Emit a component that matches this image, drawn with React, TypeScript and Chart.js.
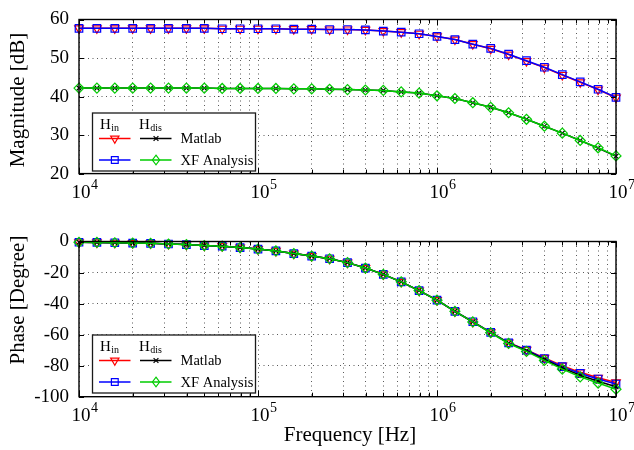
import React, { useEffect, useRef } from 'react';
import { Chart, registerables } from 'chart.js';

Chart.register(...registerables);

const FONT = '"Liberation Serif", "Times New Roman", serif';

// Frequencies (Hz), 10 points per decade
const FREQ = [
  1.0e4, 1.259e4, 1.585e4, 1.995e4, 2.512e4, 3.162e4, 3.981e4, 5.012e4, 6.31e4, 7.943e4,
  1.0e5, 1.259e5, 1.585e5, 1.995e5, 2.512e5, 3.162e5, 3.981e5, 5.012e5, 6.31e5, 7.943e5,
  1.0e6, 1.259e6, 1.585e6, 1.995e6, 2.512e6, 3.162e6, 3.981e6, 5.012e6, 6.31e6, 7.943e6,
  1.0e7,
];

// Magnitude [dB]
const MAG_IN_MATLAB = [
  57.7, 57.7, 57.7, 57.7, 57.7, 57.7, 57.7, 57.7, 57.6, 57.6,
  57.6, 57.6, 57.5, 57.5, 57.4, 57.4, 57.3, 57.0, 56.7, 56.3,
  55.6, 54.8, 53.6, 52.4, 50.9, 49.2, 47.5, 45.6, 43.7, 41.8,
  39.7,
];
const MAG_IN_XF = [
  57.7, 57.7, 57.7, 57.7, 57.7, 57.7, 57.7, 57.7, 57.6, 57.6,
  57.6, 57.6, 57.5, 57.5, 57.4, 57.4, 57.3, 57.0, 56.7, 56.3,
  55.6, 54.8, 53.6, 52.5, 51.0, 49.3, 47.6, 45.7, 43.8, 41.9,
  39.8,
];
const MAG_DIS_MATLAB = [
  42.2, 42.2, 42.2, 42.2, 42.2, 42.2, 42.2, 42.2, 42.1, 42.1,
  42.1, 42.1, 42.0, 42.0, 41.9, 41.8, 41.7, 41.6, 41.2, 40.9,
  40.2, 39.5, 38.4, 37.2, 35.8, 34.1, 32.3, 30.5, 28.6, 26.6,
  24.5,
];
const MAG_DIS_XF = [
  42.2, 42.2, 42.2, 42.2, 42.2, 42.2, 42.2, 42.2, 42.1, 42.1,
  42.1, 42.1, 42.0, 42.0, 41.9, 41.8, 41.7, 41.6, 41.2, 40.9,
  40.2, 39.5, 38.4, 37.2, 35.8, 34.1, 32.3, 30.5, 28.6, 26.7,
  24.6,
];

// Phase [Degree]
const PH_IN_MATLAB = [
  -0.5, -0.6, -0.8, -1.0, -1.2, -1.6, -2.0, -2.6, -3.0, -3.9,
  -4.9, -6.1, -7.8, -9.4, -11.1, -13.6, -17.1, -21.2, -26.0, -31.6,
  -37.8, -45.0, -51.7, -58.5, -65.2, -69.8, -75.0, -80.0, -84.3, -87.8,
  -90.8,
];
const PH_IN_XF = [
  -0.5, -0.6, -0.8, -1.0, -1.2, -1.6, -2.0, -2.6, -3.0, -3.9,
  -4.9, -6.1, -7.8, -9.4, -11.1, -13.6, -17.1, -21.2, -26.0, -31.6,
  -37.8, -45.0, -51.7, -58.5, -65.3, -70.0, -75.4, -80.6, -85.0, -88.6,
  -91.8,
];
const PH_DIS_MATLAB = [
  -0.5, -0.6, -0.8, -1.0, -1.2, -1.6, -2.0, -2.6, -3.0, -3.9,
  -4.9, -6.1, -7.8, -9.4, -11.1, -13.6, -17.1, -21.2, -26.0, -31.6,
  -37.8, -45.0, -51.8, -58.7, -65.5, -70.4, -76.0, -81.4, -86.2, -90.0,
  -93.6,
];
const PH_DIS_XF = [
  -0.5, -0.6, -0.8, -1.0, -1.2, -1.6, -2.0, -2.6, -3.0, -3.9,
  -4.9, -6.1, -7.8, -9.4, -11.1, -13.6, -17.1, -21.2, -26.0, -31.6,
  -37.8, -45.0, -51.8, -58.8, -65.7, -70.8, -76.6, -82.2, -87.2, -91.2,
  -95.2,
];

const MAG_TICKS = [20, 30, 40, 50, 60];
const PHASE_TICKS = [-100, -80, -60, -40, -20, 0];
const DECADES = [1e4, 1e5, 1e6, 1e7];
const DECADE_EXP = ['4', '5', '6', '7'];
const MANTISSAS = [1, 2, 3, 4, 5, 6, 7, 8, 9];

const SERIES_LABELS = ['Matlab', 'XF Analysis'];
const MAG_TITLE = 'Magnitude [dB]';
const PHASE_TITLE = 'Phase [Degree]';
const X_TITLE = 'Frequency [Hz]';

const RED = '#ff0000';
const BLUE = '#0000ff';
const BLACK = '#000000';
const GREEN = '#00cc00';
const GRID = 'rgba(0,0,0,0.65)';

function xTickValues(): number[] {
  const out: number[] = [];
  for (let i = 0; i < DECADES.length - 1; i++) {
    for (const m of MANTISSAS) out.push(m * DECADES[i]);
  }
  out.push(DECADES[DECADES.length - 1]);
  return out;
}

function makeDatasets(inM: number[], inX: number[], disM: number[], disX: number[]) {
  const pts = (arr: number[]) => FREQ.map((f, i) => ({ x: f, y: arr[i] }));
  const common = {
    backgroundColor: 'rgba(0,0,0,0)',
    pointBackgroundColor: 'rgba(0,0,0,0)',
    borderWidth: 1.5,
    pointBorderWidth: 1.2,
    tension: 0,
    clip: false as const,
    fill: false,
  };
  return [
    {
      ...common, label: 'H_in ' + SERIES_LABELS[0], data: pts(inM), borderColor: RED,
      pointBorderColor: RED, pointStyle: 'triangle', pointRotation: 180, pointRadius: 5,
      pointHoverRadius: 5, order: 3,
    },
    {
      ...common, label: 'H_in ' + SERIES_LABELS[1], data: pts(inX), borderColor: BLUE,
      pointBorderColor: BLUE, pointStyle: 'rect', pointRadius: 5.3, pointHoverRadius: 5.3, order: 2,
    },
    {
      ...common, label: 'H_dis ' + SERIES_LABELS[0], data: pts(disM), borderColor: BLACK,
      pointBorderColor: BLACK, pointStyle: 'crossRot', pointRadius: 3.4, pointHoverRadius: 3.4, order: 1,
    },
    {
      ...common, label: 'H_dis ' + SERIES_LABELS[1], data: pts(disX), borderColor: GREEN,
      pointBorderColor: GREEN, pointStyle: 'rectRot', pointRadius: 5, pointHoverRadius: 5, order: 0,
    },
  ];
}

function drawMarker(ctx: CanvasRenderingContext2D, kind: string, x: number, y: number, color: string) {
  ctx.save();
  ctx.strokeStyle = color;
  ctx.lineWidth = 1.2;
  ctx.beginPath();
  if (kind === 'tri') {
    const r = 4.8;
    ctx.moveTo(x, y + r);
    ctx.lineTo(x - r * 0.866, y - r / 2);
    ctx.lineTo(x + r * 0.866, y - r / 2);
    ctx.closePath();
  } else if (kind === 'sq') {
    ctx.rect(x - 3.4, y - 3.4, 6.8, 6.8);
  } else if (kind === 'dia') {
    ctx.moveTo(x, y - 4.8);
    ctx.lineTo(x + 3.6, y);
    ctx.lineTo(x, y + 4.8);
    ctx.lineTo(x - 3.6, y);
    ctx.closePath();
  } else {
    const d = 2.4;
    ctx.moveTo(x - d, y - d);
    ctx.lineTo(x + d, y + d);
    ctx.moveTo(x + d, y - d);
    ctx.lineTo(x - d, y + d);
  }
  ctx.stroke();
  ctx.restore();
}

function drawLegend(ctx: CanvasRenderingContext2D, L: number, T: number) {
  const W = 163;
  const H = 58;
  ctx.save();
  ctx.fillStyle = '#ffffff';
  ctx.fillRect(L, T, W, H);
  ctx.lineWidth = 1.3;
  ctx.strokeStyle = '#1a1a1a';
  ctx.strokeRect(L, T, W, H);
  ctx.fillStyle = '#000';
  ctx.textAlign = 'left';
  ctx.textBaseline = 'alphabetic';
  const sub = (main: string, s: string, x: number, y: number) => {
    ctx.font = `15px ${FONT}`;
    ctx.fillText(main, x, y);
    const w = ctx.measureText(main).width;
    ctx.font = `10px ${FONT}`;
    ctx.fillText(s, x + w + 0.5, y + 2.5);
  };
  sub('H', 'in', L + 7.5, T + 15.5);
  sub('H', 'dis', L + 46.5, T + 15.5);
  const r1 = T + 25.5;
  const r2 = T + 47;
  const seg = (x1: number, x2: number, y: number, c: string) => {
    ctx.strokeStyle = c;
    ctx.lineWidth = 1.5;
    ctx.beginPath();
    ctx.moveTo(x1, y);
    ctx.lineTo(x2, y);
    ctx.stroke();
  };
  seg(L + 6.5, L + 38, r1, RED);
  drawMarker(ctx, 'tri', L + 22.3, r1, RED);
  seg(L + 47.5, L + 79, r1, BLACK);
  drawMarker(ctx, 'x', L + 63.5, r1, BLACK);
  seg(L + 6.5, L + 38, r2, BLUE);
  drawMarker(ctx, 'sq', L + 22.3, r2, BLUE);
  seg(L + 47.5, L + 79, r2, GREEN);
  drawMarker(ctx, 'dia', L + 63.5, r2, GREEN);
  ctx.fillStyle = '#000';
  ctx.font = `14.5px ${FONT}`;
  ctx.fillText(SERIES_LABELS[0], L + 88, r1 + 4.5);
  ctx.fillText(SERIES_LABELS[1], L + 88, r2 + 4.5);
  ctx.restore();
}

function framePlugin(yTitle: string, yTitleCenter: number, xTitle: string | null, xTitleY: number) {
  return {
    id: 'frame',
    afterDraw(chart: any) {
      const ctx: CanvasRenderingContext2D = chart.ctx;
      const a = chart.chartArea;
      const xs = chart.scales.x;
      const ys = chart.scales.y;
      ctx.save();
      // inward tick marks
      ctx.strokeStyle = '#000';
      ctx.lineWidth = 1;
      ctx.beginPath();
      for (const t of xs.ticks) {
        const px = Math.round(xs.getPixelForValue(t.value)) + 0.5;
        const major = DECADES.includes(t.value);
        const len = major ? 6 : 4;
        ctx.moveTo(px, a.bottom);
        ctx.lineTo(px, a.bottom - len);
        ctx.moveTo(px, a.top);
        ctx.lineTo(px, a.top + len);
      }
      for (const t of ys.ticks) {
        const py = Math.round(ys.getPixelForValue(t.value)) + 0.5;
        ctx.moveTo(a.left, py);
        ctx.lineTo(a.left + 5, py);
        ctx.moveTo(a.right, py);
        ctx.lineTo(a.right - 5, py);
      }
      ctx.stroke();
      // box
      ctx.lineWidth = 1.4;
      ctx.strokeStyle = '#000';
      ctx.strokeRect(a.left, a.top, a.right - a.left, a.bottom - a.top);

      // x tick labels 10^n
      ctx.fillStyle = '#000';
      ctx.textBaseline = 'alphabetic';
      for (let i = 0; i < DECADES.length; i++) {
        const px = xs.getPixelForValue(DECADES[i]);
        ctx.font = `19px ${FONT}`;
        ctx.textAlign = 'center';
        ctx.fillText('10', px + 2, a.bottom + 24);
        const w = ctx.measureText('10').width;
        ctx.font = `14px ${FONT}`;
        ctx.textAlign = 'left';
        ctx.fillText(DECADE_EXP[i], px + 2 + w / 2 + 0.5, a.bottom + 15);
      }

      // legend
      drawLegend(ctx, a.left + 13.5, a.top + 93.5);

      // y title
      ctx.save();
      ctx.translate(18, yTitleCenter);
      ctx.rotate(-Math.PI / 2);
      ctx.font = `21px ${FONT}`;
      ctx.textAlign = 'center';
      ctx.textBaseline = 'middle';
      ctx.fillText(yTitle, 0, 0);
      ctx.restore();

      if (xTitle) {
        ctx.font = `21px ${FONT}`;
        ctx.textAlign = 'center';
        ctx.textBaseline = 'alphabetic';
        ctx.fillText(xTitle, 350, xTitleY);
      }
      ctx.restore();
    },
  };
}

function buildOptions(yMin: number, yMax: number, yTicks: number[], padTop: number, xHeight: number) {
  const xt = xTickValues();
  return {
    animation: false,
    responsive: false,
    events: [],
    layout: { padding: { left: 0, right: 18, top: padTop, bottom: 0 } },
    plugins: { legend: { display: false }, tooltip: { enabled: false } },
    scales: {
      x: {
        type: 'logarithmic',
        min: 1e4,
        max: 1e7,
        afterBuildTicks: (s: any) => {
          s.ticks = xt.map((v) => ({ value: v }));
        },
        afterFit: (s: any) => {
          s.height = xHeight;
        },
        ticks: { display: false },
        grid: { color: GRID, lineWidth: 1, drawTicks: false },
        border: { display: false, dash: [1, 3.5] },
      },
      y: {
        type: 'linear',
        min: yMin,
        max: yMax,
        afterBuildTicks: (s: any) => {
          s.ticks = yTicks.map((v) => ({ value: v }));
        },
        afterFit: (s: any) => {
          s.width = 79;
        },
        ticks: {
          color: '#000',
          padding: 10,
          font: { family: FONT, size: 19, lineHeight: 1 },
        },
        grid: { color: GRID, lineWidth: 1, drawTicks: false },
        border: { display: false, dash: [1, 3.5] },
      },
    },
  };
}

export default function App() {
  const topRef = useRef<HTMLCanvasElement | null>(null);
  const botRef = useRef<HTMLCanvasElement | null>(null);

  useEffect(() => {
    Chart.defaults.font.family = FONT;
    const top = new Chart(topRef.current as HTMLCanvasElement, {
      type: 'line',
      data: { datasets: makeDatasets(MAG_IN_MATLAB, MAG_IN_XF, MAG_DIS_MATLAB, MAG_DIS_XF) as any },
      options: buildOptions(20, 60, MAG_TICKS, 12.4, 48.4) as any,
      plugins: [framePlugin(MAG_TITLE, 100, null, 0)],
    });
    const bot = new Chart(botRef.current as HTMLCanvasElement, {
      type: 'line',
      data: { datasets: makeDatasets(PH_IN_MATLAB, PH_IN_XF, PH_DIS_MATLAB, PH_DIS_XF) as any },
      options: buildOptions(-100, 0, PHASE_TICKS, 13.7, 53.3) as any,
      plugins: [framePlugin(PHASE_TITLE, 78, X_TITLE, 219)],
    });
    return () => {
      top.destroy();
      bot.destroy();
    };
  }, []);

  return (
    <div style={{ position: 'absolute', left: 0, top: 0, width: 634, height: 450, background: '#fff' }}>
      <canvas ref={topRef} width={634} height={222} style={{ display: 'block', width: 634, height: 222 }} />
      <canvas ref={botRef} width={634} height={228} style={{ display: 'block', width: 634, height: 228 }} />
    </div>
  );
}
